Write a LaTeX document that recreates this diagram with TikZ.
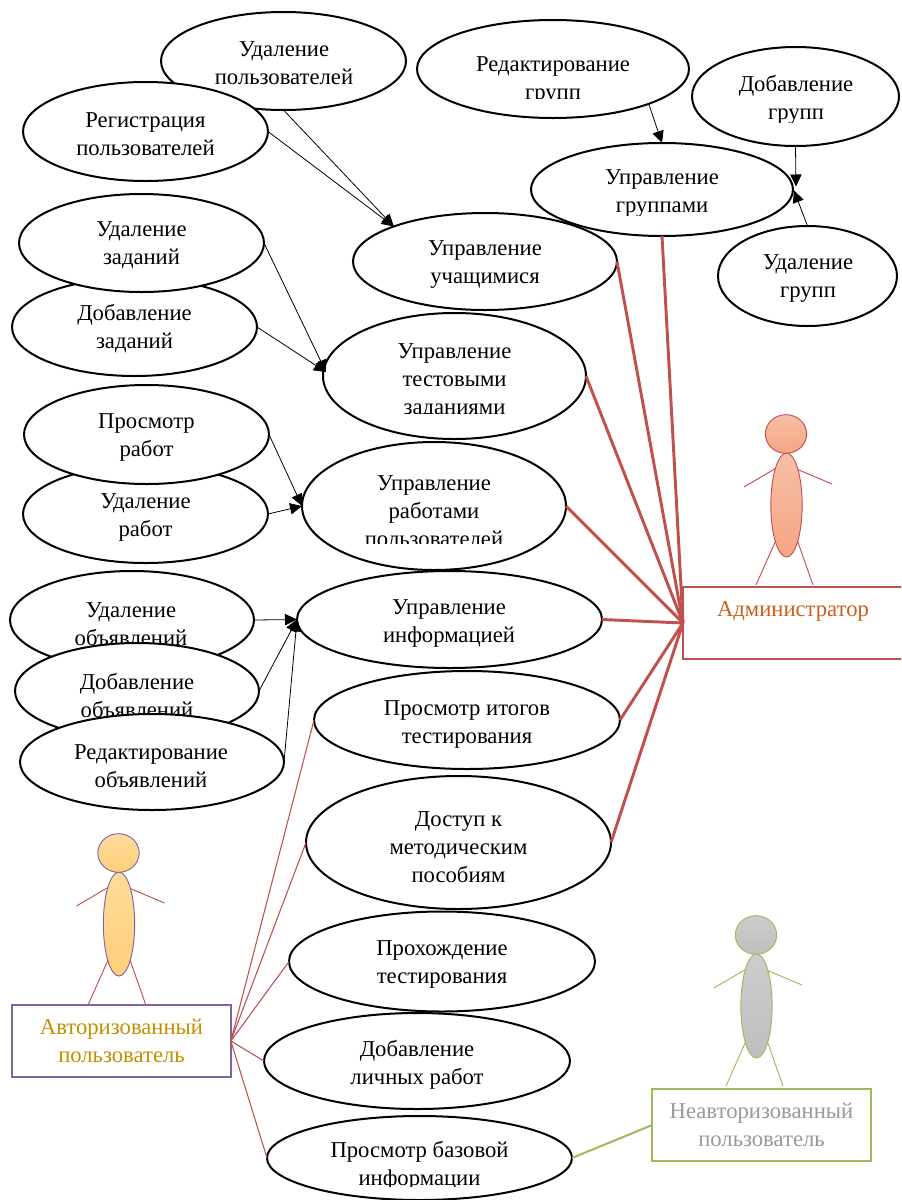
\documentclass[tikz,border=0pt]{standalone}
\usepackage{fontspec}
\setmainfont{Liberation Serif}
\usetikzlibrary{arrows.meta,shapes.geometric,calc}
\definecolor{redline}{HTML}{C0504D}
\definecolor{purpleline}{HTML}{8064A2}
\definecolor{greenline}{HTML}{9BBB59}
\definecolor{admtext}{HTML}{C9601C}
\definecolor{authtext}{HTML}{BF9000}
\definecolor{guesttext}{HTML}{999999}
\definecolor{actorTopA}{HTML}{F7BFA6}
\definecolor{actorBotA}{HTML}{F5A583}
\definecolor{actorTopB}{HTML}{FFDB9C}
\definecolor{actorBotB}{HTML}{FFCF78}
\definecolor{actorTopC}{HTML}{CDCDCD}
\definecolor{actorBotC}{HTML}{BFBFBF}
\tikzset{
  x=0.75pt,y=-0.75pt,
  usecase/.style={ellipse,draw=black,fill=white,line width=1.5pt,inner sep=0pt,outer sep=0pt},
  uctext/.style={font=\fontsize{17}{21}\selectfont,align=center,inner sep=0pt,text=black},
  assoc/.style={-{Triangle[length=9pt,width=8.5pt]},draw=black,line width=0.6pt},
  admlink/.style={draw=redline,line width=2.2pt},
  authlink/.style={draw=redline,line width=0.8pt},
  guestlink/.style={draw=greenline,line width=1.5pt},
  actorbox/.style={rectangle,fill=white,line width=1.6pt,minimum height=54pt,inner sep=0pt,outer sep=0pt,
     font=\fontsize{17}{21}\selectfont,align=center},
  actorpart/.style={ellipse,inner sep=0pt,outer sep=0pt,line width=0.7pt},
}
% name, cx, cy, rx, ry, text x, text y, clip bottom y, text
\newcommand{\ucnode}[9]{%
  \node (#1) [usecase,minimum width=#4*1.5pt,minimum height=#5*1.5pt] at (#2,#3) {};
  \begin{scope}
    \clip (0,0) rectangle (901,#8);
    \node (#1-text) [uctext] at (#6,#7+2) {#9};
  \end{scope}}
% prefix, cx, cy, top colour, bottom colour, outline, limbs
\newcommand{\actorfig}[7]{%
  \node (#1-body) [actorpart,minimum width=23.5pt,minimum height=78pt,top color=#4,bottom color=#5,draw=#6] at (#2,#3) {};
  \node (#1-head) [actorpart,minimum width=31pt,minimum height=29pt,top color=#4,bottom color=#5,draw=#6] at ($(#2,#3)+(-0.5,-71)$) {};
  \coordinate (#1-la) at ($(#2,#3)+(-42.5,-18)$);
  \coordinate (#1-ra) at ($(#2,#3)+(45.5,-21)$);
  \coordinate (#1-ll) at ($(#2,#3)+(-30.5,80)$);
  \coordinate (#1-rl) at ($(#2,#3)+(26.5,80)$);
  \draw[#7,line width=0.7pt] (#1-body.107) -- (#1-la);
  \draw[#7,line width=0.7pt] (#1-body.72) -- (#1-ra);
  \draw[#7,line width=0.7pt] (#1-body.253) -- (#1-ll);
  \draw[#7,line width=0.7pt] (#1-body.287) -- (#1-rl);}
\begin{document}
\begin{tikzpicture}
\useasboundingbox (0,0) rectangle (901,1200);
\clip (0,0) rectangle (901,1200);
\ucnode{delusers}{283.5}{61}{122.5}{49}{284}{61.5}{84}{Удаление\\пользователей}
\ucnode{regusers}{145.5}{131.5}{122.5}{49.5}{145.5}{132.5}{170}{Регистрация\\пользователей}
\ucnode{editgroups}{553}{69}{136}{49}{553}{79}{98}{Редактирование\\групп}
\ucnode{addgroups}{795.5}{96.5}{103.5}{49.5}{796}{97.5}{122}{Добавление\\групп}
\ucnode{manstud}{485}{261.5}{132}{48.5}{485}{263}{288}{Управление\\учащимися}
\ucnode{mangroups}{662}{189.5}{131}{46.5}{662}{191.5}{215}{Управление\\группами}
\ucnode{delgroups}{807.5}{276}{89.5}{50}{808}{277}{320}{Удаление\\групп}
\ucnode{addtasks}{134.5}{327}{122.5}{49}{134.5}{326.5}{370}{Добавление\\заданий}
\ucnode{deltasks}{141.5}{243}{122.5}{49}{141.5}{243.5}{290}{Удаление\\заданий}
\ucnode{mantests}{454.5}{376}{131.5}{63}{454.5}{379.5}{413}{Управление\\тестовыми\\заданиями}
\ucnode{delworks}{145.5}{514}{122.5}{49}{145.5}{515}{560}{Удаление\\работ}
\ucnode{viewworks}{146.5}{434.5}{122.5}{49.5}{146.5}{435}{480}{Просмотр\\работ}
\ucnode{manworks}{434}{506}{132}{64}{434}{509.5}{543}{Управление\\работами\\пользователей}
\ucnode{delads}{132}{620}{122}{49}{131}{622}{660}{Удаление\\объявлений}
\ucnode{addads}{137}{691}{122}{48}{137}{693.5}{730}{Добавление\\объявлений}
\ucnode{editads}{152}{762}{132}{48}{151}{764.5}{810}{Редактирование\\объявлений}
\ucnode{maninfo}{449.5}{619.5}{152.5}{48.5}{449}{621}{660}{Управление\\информацией}
\ucnode{results}{467}{720}{153}{49}{467}{722}{765}{Просмотр итогов\\тестирования}
\ucnode{manuals}{458.5}{842.5}{152.5}{66.5}{458.5}{845}{900}{Доступ к\\методическим\\пособиям}
\ucnode{testing}{442}{961.5}{153}{50}{442}{962}{1005}{Прохождение\\тестирования}
\ucnode{addpers}{417}{1061}{153}{48}{417}{1062.5}{1100}{Добавление\\личных работ}
\ucnode{basic}{419.5}{1158}{152.5}{42}{419.5}{1163.5}{1186}{Просмотр базовой\\информации}

\actorfig{adm}{786.5}{505}{actorTopA}{actorBotA}{redline}{redline}
\actorfig{auth}{119}{924}{actorTopB}{actorBotB}{purpleline}{redline}
\actorfig{guest}{756.5}{1006}{actorTopC}{actorBotC}{greenline}{greenline}

\node (admbox) [actorbox,draw=redline,text=admtext,minimum width=165pt] at (793,623) {Администратор\\\mbox{}};
\node (authbox) [actorbox,draw=purpleline,text=authtext,minimum width=164pt] at (121.5,1041) {Авторизованный\\пользователь};
\node (guestbox) [actorbox,draw=greenline,text=guesttext,minimum width=164pt] at (761.5,1125) {Неавторизованный\\пользователь};

\coordinate (grouptip) at ($(mangroups.east)+(3,-3)$);
\coordinate (grouptipb) at ($(mangroups.east)+(1,1)$);
\coordinate (teststip) at ($(mantests.west)+(3,-4)$);
\draw[assoc] (delusers.south) -- (manstud.159);
\draw[assoc] (regusers.east) -- (manstud.159);
\draw[assoc] (editgroups.-20) -- (mangroups.north);
\draw[assoc] (addgroups.south) -- (grouptip);
\draw[assoc] (delgroups.north) -- (grouptipb);
\draw[assoc] (deltasks.east) -- (teststip);
\draw[assoc] (addtasks.east) -- (teststip);
\draw[assoc] (viewworks.east) -- (manworks.west);
\draw[assoc] (delworks.east) -- (manworks.west);
\draw[assoc] (delads.east) -- (maninfo.west);
\draw[assoc] (addads.east) -- (maninfo.west);
\draw[assoc] (editads.east) -- (maninfo.west);

\foreach \n in {manstud.east,mangroups.south,mantests.east,manworks.east,maninfo.east,results.east,manuals.east}
  \draw[admlink] (\n) -- (admbox.west);
\foreach \n in {results.west,manuals.west,testing.west,addpers.west,basic.west}
  \draw[authlink] (authbox.east) -- (\n);
\draw[guestlink] (guestbox.west) -- (basic.east);
\end{tikzpicture}
\end{document}
